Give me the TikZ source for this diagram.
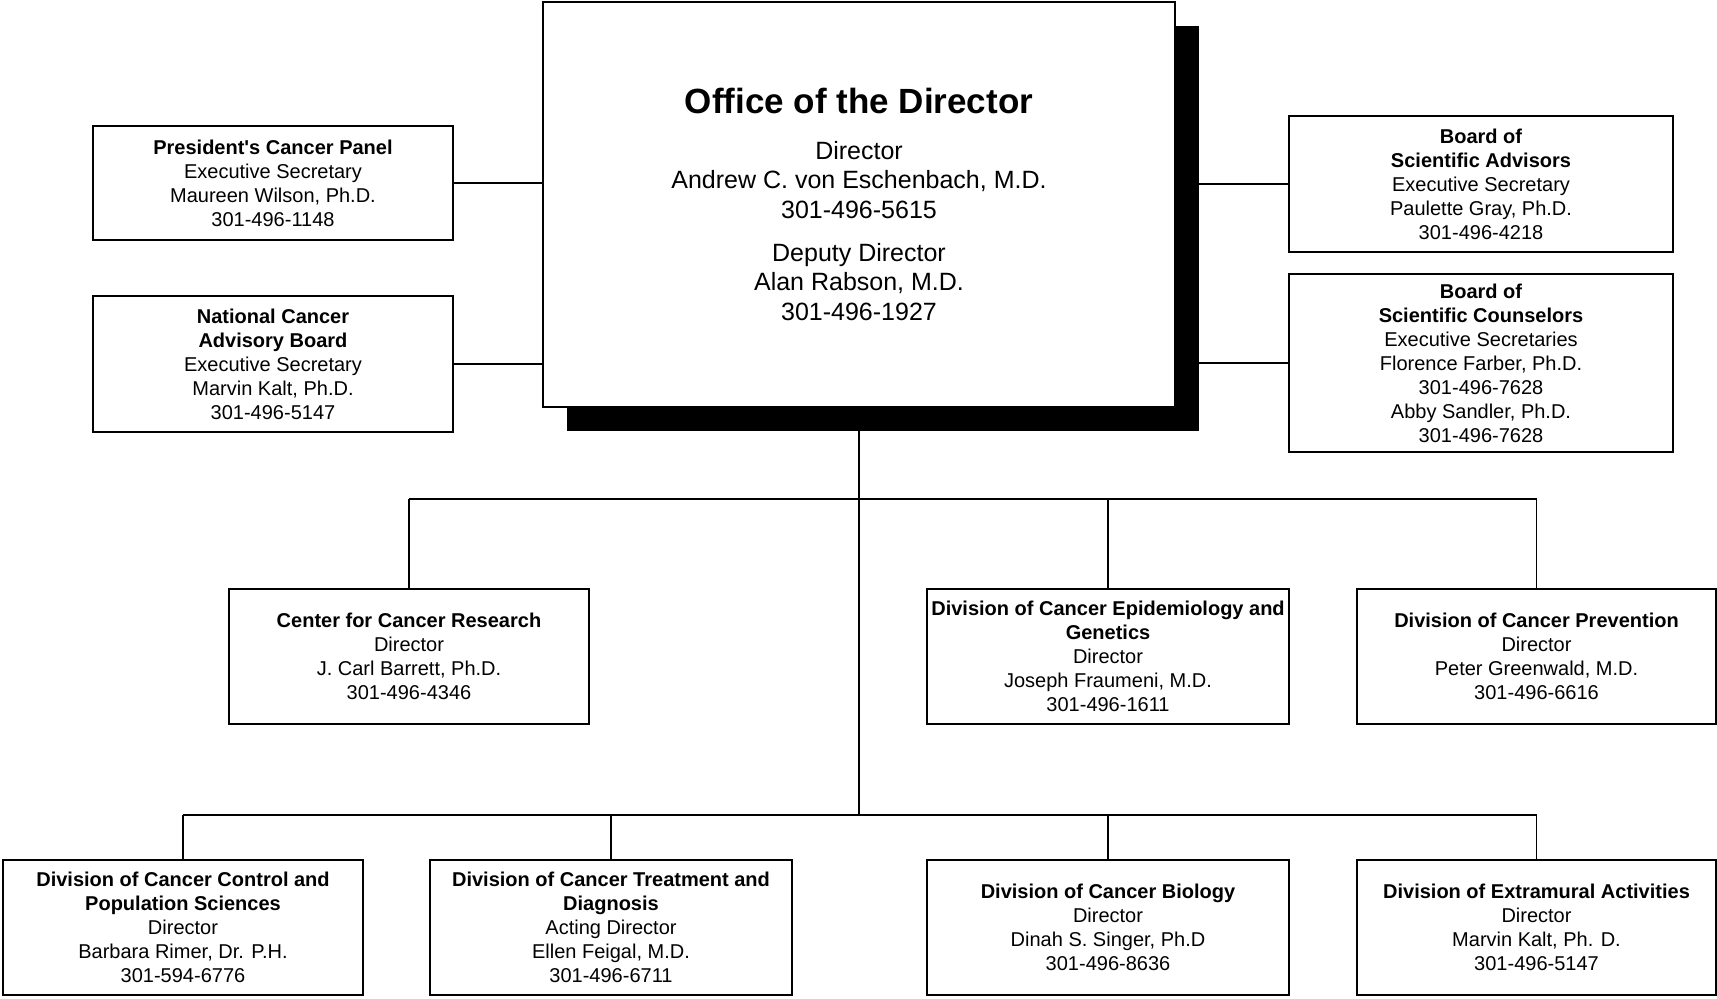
\documentclass[tikz,border=0pt]{standalone}
\usepackage{fontspec}
\setmainfont{Liberation Sans}
\begin{document}
\begin{tikzpicture}[x=0.5pt,y=-0.5pt,
  orgbox/.style={draw, line width=0.85pt, fill=white, inner sep=0pt, align=center,
    font=\fontsize{10}{12}\selectfont},
  link/.style={line width=0.85pt}]
\useasboundingbox (0,0) rectangle (1717,998);
% shadow and office
\node[fill=black, inner sep=0pt, minimum width=316pt, minimum height=202.5pt] (shadow) at (883,228.5) {};
\node[orgbox, minimum width=316pt, minimum height=202.5pt, font=\fontsize{12.5}{14.75}\selectfont] (office) at (859,204.5)
  {{\fontsize{17.5}{21}\selectfont\bfseries Office of the Director}\\[8pt]
   Director\\Andrew C. von Eschenbach, M.D.\\301-496-5615\\[6.75pt]
   Deputy Director\\Alan Rabson, M.D.\\301-496-1927};
% left side
\node[orgbox, minimum width=180pt, minimum height=57pt] (pres) at (273,183)
  {\textbf{President\textquotesingle s Cancer Panel}\\Executive Secretary\\Maureen Wilson, Ph.D.\\301-496-1148};
\node[orgbox, minimum width=180pt, minimum height=68pt] (ncab) at (273,364)
  {\textbf{National Cancer}\\\textbf{Advisory Board}\\Executive Secretary\\Marvin Kalt, Ph.D.\\301-496-5147};
% right side
\node[orgbox, minimum width=192pt, minimum height=68pt] (bsa) at (1481,184)
  {\textbf{Board of}\\\textbf{Scientific Advisors}\\Executive Secretary\\Paulette Gray, Ph.D.\\301-496-4218};
\node[orgbox, minimum width=192pt, minimum height=89pt] (bsc) at (1481,363)
  {\textbf{Board of}\\\textbf{Scientific Counselors}\\Executive Secretaries\\Florence Farber, Ph.D.\\301-496-7628\\Abby Sandler, Ph.D.\\301-496-7628};
% row 2
\node[orgbox, minimum width=180pt, minimum height=67.5pt] (ccr) at (409,656.5)
  {\textbf{Center for Cancer Research}\\Director\\J. Carl Barrett, Ph.D.\\301-496-4346};
\node[orgbox, minimum width=181pt, minimum height=67.5pt] (dceg) at (1108,656.5)
  {\textbf{Division of Cancer Epidemiology and}\\\textbf{Genetics}\\Director\\Joseph Fraumeni, M.D.\\301-496-1611};
\node[orgbox, minimum width=179.5pt, minimum height=67.5pt] (dcp) at (1536.5,656.5)
  {\textbf{Division of Cancer Prevention}\\Director\\Peter Greenwald, M.D.\\301-496-6616};
% row 3
\node[orgbox, minimum width=180pt, minimum height=67.5pt] (dccps) at (183,927.5)
  {\textbf{Division of Cancer Control and}\\\textbf{Population Sciences}\\Director\\Barbara Rimer, Dr. P.H.\\301-594-6776};
\node[orgbox, minimum width=181pt, minimum height=67.5pt] (dctd) at (611,927.5)
  {\textbf{Division of Cancer Treatment and}\\\textbf{Diagnosis}\\Acting Director\\Ellen Feigal, M.D.\\301-496-6711};
\node[orgbox, minimum width=181pt, minimum height=67.5pt] (dcb) at (1108,927.5)
  {\textbf{Division of Cancer Biology}\\Director\\Dinah S. Singer, Ph.D\\301-496-8636};
\node[orgbox, minimum width=179.5pt, minimum height=67.5pt] (dea) at (1536.5,927.5)
  {\textbf{Division of Extramural Activities}\\Director\\Marvin Kalt, Ph. D.\\301-496-5147};
% connectors
\draw[link] (pres.east) -- (pres.east -| office.west);
\draw[link] (ncab.east) -- (ncab.east -| office.west);
\draw[link] (bsa.west) -- (bsa.west -| shadow.east);
\draw[link] (bsc.west) -- (bsc.west -| shadow.east);
\coordinate (j1) at (859,499);
\coordinate (j2) at (859,815);
\draw[link] (office.south |- shadow.south) -- (j2);
\draw[link] (ccr.north |- j1) -- (dcp.north |- j1);
\draw[link] (ccr.north |- j1) -- (ccr.north);
\draw[link] (dceg.north |- j1) -- (dceg.north);
\draw[link] (dcp.north |- j1) -- (dcp.north);
\draw[link] (dccps.north |- j2) -- (dea.north |- j2);
\draw[link] (dccps.north |- j2) -- (dccps.north);
\draw[link] (dctd.north |- j2) -- (dctd.north);
\draw[link] (dcb.north |- j2) -- (dcb.north);
\draw[link] (dea.north |- j2) -- (dea.north);
\end{tikzpicture}
\end{document}
